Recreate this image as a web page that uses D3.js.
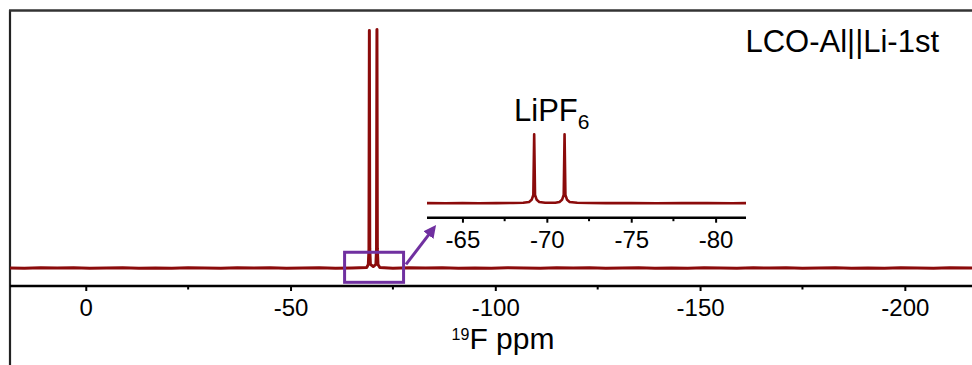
<!DOCTYPE html>
<html>
<head>
<meta charset="utf-8">
<script src="https://cdn.jsdelivr.net/npm/d3@7"></script>
<style>
  body { margin: 0; background: #fff; }
  svg { display: block; font-family: "Liberation Sans", Arial, sans-serif; }
</style>
</head>
<body>
<svg id="chart" width="972" height="365"></svg>
<script>
// main 19F spectrum, [ppm, intensity]
const mainSpectrum = [
  [18.5, 0.05], [15, -0.1], [11, 0.1], [7, -0.05], [3, 0.1], [-1, -0.1], [-5, 0.05], [-9, 0.1],
  [-13, -0.1], [-17, 0.05], [-21, -0.1], [-25, 0.1], [-29, 0.0], [-33, -0.1], [-37, 0.1], [-41, -0.05],
  [-45, 0.1], [-49, -0.1], [-53, 0.05], [-57, 0.1], [-61, -0.1], [-65, 0.05], [-68.6, 0.2],
  [-69.0, 1.5], [-69.15, 8], [-69.25, 99.6], [-69.35, 8], [-69.5, 1.5], [-70.2, 0.6],
  [-70.85, 1.5], [-71.0, 8], [-71.1, 100], [-71.2, 8], [-71.35, 1.5], [-71.8, 0.2],
  [-75, -0.1], [-79, 0.1], [-83, -0.05], [-87, 0.1], [-91, -0.1], [-95, 0.05], [-99, -0.1],
  [-103, 0.1], [-107, 0.0], [-111, -0.1], [-115, 0.1], [-119, -0.05], [-123, 0.1], [-127, -0.1],
  [-131, 0.05], [-135, 0.1], [-139, -0.1], [-143, 0.05], [-147, -0.1], [-151, 0.1], [-155, 0.0],
  [-159, -0.1], [-163, 0.1], [-167, -0.05], [-171, 0.1], [-175, -0.1], [-179, 0.05], [-183, 0.1],
  [-187, -0.1], [-191, 0.05], [-195, -0.1], [-199, 0.1], [-203, 0.0], [-207, -0.1], [-211, 0.1],
  [-216.4, -0.05]
];

// zoomed LiPF6 region, [ppm, intensity]
const insetSpectrum = [
  [-62.9, 0.2], [-64, 0.0], [-65, 0.3], [-66, 0.1], [-67, 0.2], [-68, 0.4], [-68.6, 0.8],
  [-68.95, 2], [-69.1, 5], [-69.2, 12], [-69.25, 100], [-69.3, 12], [-69.4, 5], [-69.55, 2],
  [-69.9, 0.9], [-70.2, 0.8], [-70.5, 0.9], [-70.75, 2], [-70.9, 5], [-71.0, 12], [-71.05, 100],
  [-71.1, 12], [-71.2, 5], [-71.35, 2], [-71.8, 0.8], [-72.5, 0.4], [-73.5, 0.2], [-75, 0.3],
  [-76.5, 0.1], [-78, 0.3], [-79.5, 0.2], [-81, 0.1], [-81.8, 0.2]
];

const mainTicks = [0, -50, -100, -150, -200];
const mainMinorTicks = [-25, -75, -125, -175];
const insetTicks = [-65, -70, -75, -80];
const insetMinorTicks = [-67.5, -72.5, -77.5];

const zoomBoxPpm = [-63.2, -77.6];
const zoomBoxInt = [6.6, -6.0];
const arrowPts = [[-78.2, 1.5], [-84.6, 15.9]];

const titleText = "LCO-Al||Li-1st";
const peakLabel = "LiPF";
const peakLabelSub = "6";

const red = "#8b0b0b";
const purple = "#7030a0";

const svg = d3.select("#chart");

const x = d3.scaleLinear().domain([18.5, -216.4]).range([10, 972]);
const y = d3.scaleLinear().domain([0, 100]).range([268, 29.5]);

const xi = d3.scaleLinear().domain([-62.9, -81.8]).range([427, 746]);
const yi = d3.scaleLinear().domain([0, 100]).range([203.3, 134.3]);

// frame
svg.append("line").attr("x1", 10).attr("x2", 10).attr("y1", 10).attr("y2", 365)
  .attr("stroke", "#222").attr("stroke-width", 2.2);
svg.append("line").attr("x1", 9).attr("x2", 972).attr("y1", 10.5).attr("y2", 10.5)
  .attr("stroke", "#333").attr("stroke-width", 2.5);

// main spectrum
const line = d3.line().x(d => x(d[0])).y(d => y(d[1]));
svg.append("path").datum(mainSpectrum)
  .attr("fill", "none").attr("stroke", red).attr("stroke-width", 3)
  .attr("stroke-linejoin", "round").attr("d", line);

// main axis
const axisG = svg.append("g").attr("transform", "translate(0,286)")
  .call(d3.axisBottom(x).tickValues(mainTicks).tickSize(5).tickPadding(8).tickSizeOuter(0)
    .tickFormat(d3.format("d")));
axisG.append("g").selectAll("line").data(mainMinorTicks).join("line")
  .attr("x1", d => x(d)).attr("x2", d => x(d)).attr("y1", 0).attr("y2", 3.5)
  .attr("stroke", "#000").attr("stroke-width", 2);
axisG.select(".domain").attr("stroke", "#000").attr("stroke-width", 2.5)
  .attr("d", `M${x.range()[0]},0H${x.range()[1]}`);
axisG.selectAll(".tick line").attr("stroke", "#000").attr("stroke-width", 2);
axisG.selectAll(".tick text").attr("font-size", 24).attr("fill", "#000")
  .style("font-family", "Liberation Sans, Arial, sans-serif")
  .text(d => d === 0 ? "0" : "-" + Math.abs(d));

// axis title
const xlab = svg.append("text").attr("x", 503).attr("y", 349)
  .attr("text-anchor", "middle").attr("font-size", 30).attr("fill", "#000");
xlab.append("tspan").attr("font-size", 16).attr("dy", -9).text("19");
xlab.append("tspan").attr("dy", 9).text("F ppm");

// zoom box + arrow
svg.append("rect")
  .attr("x", x(zoomBoxPpm[0])).attr("y", y(zoomBoxInt[0]))
  .attr("width", x(zoomBoxPpm[1]) - x(zoomBoxPpm[0]))
  .attr("height", y(zoomBoxInt[1]) - y(zoomBoxInt[0]))
  .attr("fill", "none").attr("stroke", purple).attr("stroke-width", 3);

svg.append("defs").append("marker")
  .attr("id", "head").attr("viewBox", "0 0 10 10").attr("refX", 5).attr("refY", 5)
  .attr("markerWidth", 4.2).attr("markerHeight", 4.2).attr("orient", "auto")
  .append("path").attr("d", "M0,0L10,5L0,10Z").attr("fill", purple);
svg.append("line")
  .attr("x1", x(arrowPts[0][0])).attr("y1", y(arrowPts[0][1]))
  .attr("x2", x(arrowPts[1][0])).attr("y2", y(arrowPts[1][1]))
  .attr("stroke", purple).attr("stroke-width", 3).attr("marker-end", "url(#head)");

// inset spectrum
const iline = d3.line().x(d => xi(d[0])).y(d => yi(d[1]));
svg.append("path").datum(insetSpectrum)
  .attr("fill", "none").attr("stroke", red).attr("stroke-width", 2.6)
  .attr("stroke-linejoin", "round").attr("d", iline);

const iaxis = svg.append("g").attr("transform", "translate(0,217.7)")
  .call(d3.axisBottom(xi).tickValues(insetTicks).tickSize(5).tickPadding(8).tickSizeOuter(0));
iaxis.append("g").selectAll("line").data(insetMinorTicks).join("line")
  .attr("x1", d => xi(d)).attr("x2", d => xi(d)).attr("y1", 0).attr("y2", 3.5)
  .attr("stroke", "#000").attr("stroke-width", 2);
iaxis.select(".domain").attr("stroke", "#000").attr("stroke-width", 2.5)
  .attr("d", `M${xi.range()[0]},0H${xi.range()[1]}`);
iaxis.selectAll(".tick line").attr("stroke", "#000").attr("stroke-width", 2);
iaxis.selectAll(".tick text").attr("font-size", 24).attr("fill", "#000")
  .style("font-family", "Liberation Sans, Arial, sans-serif")
  .text(d => "-" + Math.abs(d));

// labels
const pl = svg.append("text").attr("x", 514).attr("y", 121)
  .attr("font-size", 31).attr("fill", "#000");
pl.append("tspan").text(peakLabel);
pl.append("tspan").attr("font-size", 21).attr("dy", 8).text(peakLabelSub);

svg.append("text").attr("x", 939).attr("y", 52).attr("text-anchor", "end")
  .attr("font-size", 31).attr("fill", "#000").text(titleText);
</script>
</body>
</html>
